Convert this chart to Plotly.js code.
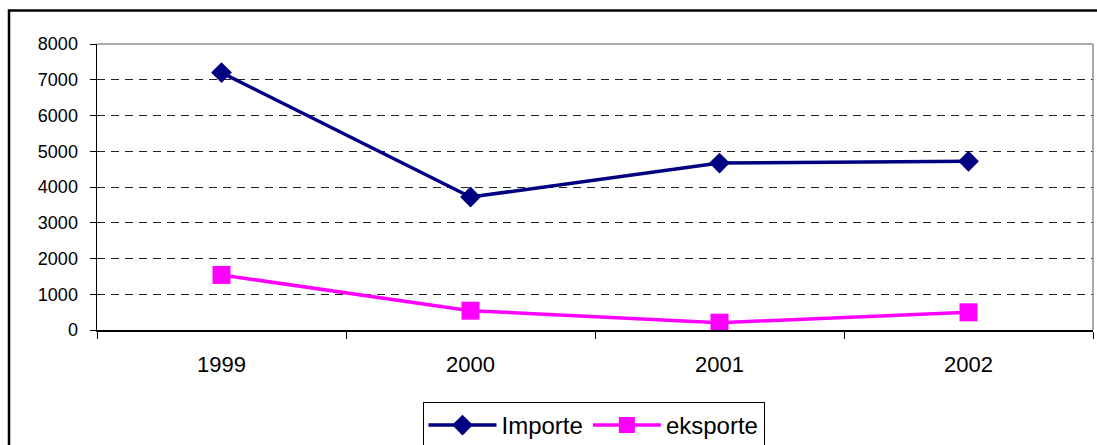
<!DOCTYPE html>
<html>
<head>
<meta charset="utf-8">
<script src="https://cdn.plot.ly/plotly-3.0.1.min.js"></script>
<style>
html,body{margin:0;padding:0;background:#fff;}
#chart{width:1097px;height:445px;}
</style>
</head>
<body>
<div id="chart"></div>
<script>
var years = ["1999", "2000", "2001", "2002"];
var importe = [7200, 3720, 4670, 4720];
var eksporte = [1540, 540, 205, 495];
var yTicks = [0, 1000, 2000, 3000, 4000, 5000, 6000, 7000, 8000];

var W = 1097, H = 445;
var mL = 97, mR = 4, mT = 44, mB = 115;
var pw = W - mL - mR, ph = H - mT - mB;
function px(x){ return (x - mL) / pw; }
function py(y){ return (H - mB - y) / ph; }

var traces = [
  {
    x: years, y: importe, name: "Importe", type: "scatter", mode: "lines+markers",
    line: {color: "#000080", width: 3.5},
    marker: {symbol: "diamond", size: 16, color: "#000080"}
  },
  {
    x: years, y: eksporte, name: "eksporte", type: "scatter", mode: "lines+markers",
    line: {color: "#FF00FF", width: 3.5},
    marker: {symbol: "square", size: 18, color: "#FF00FF"}
  }
];

var layout = {
  width: W, height: H,
  margin: {l: mL, r: mR, t: mT, b: mB, pad: 0, autoexpand: false},
  paper_bgcolor: "#ffffff", plot_bgcolor: "#ffffff",
  font: {family: "Liberation Sans, Arial, sans-serif", color: "#000"},
  showlegend: true,
  legend: {
    orientation: "h", xref: "container", yref: "container",
    x: 593.5 / W, xanchor: "center", y: 1 - 402 / H, yanchor: "top",
    bordercolor: "#000", borderwidth: 1, bgcolor: "#fff",
    font: {size: 24, color: "#000"}, itemwidth: 68, tracegroupgap: 0
  },
  xaxis: {
    type: "category", range: [-0.5, 3.5], tickson: "boundaries",
    ticks: "outside", ticklen: 7, tickcolor: "#000", tickwidth: 1,
    showline: true, linecolor: "#000", linewidth: 1.5,
    showgrid: false, zeroline: false, fixedrange: true, automargin: false,
    tickfont: {size: 22, color: "#000"}, ticklabelstandoff: 14
  },
  yaxis: {
    range: [0, 8000], tickvals: yTicks, ticktext: yTicks.map(String),
    ticks: "outside", ticklen: 6, tickcolor: "#000", tickwidth: 1,
    showline: true, linecolor: "#000", linewidth: 1.5,
    showgrid: true, gridcolor: "#222", gridwidth: 1, griddash: "8px,6px",
    zeroline: false, fixedrange: true, automargin: false,
    tickfont: {size: 18, color: "#000"}, ticklabelstandoff: 8
  },
  shapes: [
    {type: "line", xref: "paper", yref: "paper", x0: 0, x1: 1, y0: 1, y1: 1,
     line: {color: "#8c8c8c", width: 1.5}, layer: "above"},
    {type: "line", xref: "paper", yref: "paper", x0: 1, x1: 1, y0: 0, y1: 1,
     line: {color: "#8c8c8c", width: 1.5}, layer: "above"},
    {type: "rect", xref: "paper", yref: "paper",
     x0: px(9), x1: px(1110), y0: py(460), y1: py(10.5),
     line: {color: "#000", width: 2.5}, fillcolor: "rgba(0,0,0,0)", layer: "above"}
  ]
};

Plotly.newPlot("chart", traces, layout, {displayModeBar: false, staticPlot: true});
</script>
</body>
</html>
